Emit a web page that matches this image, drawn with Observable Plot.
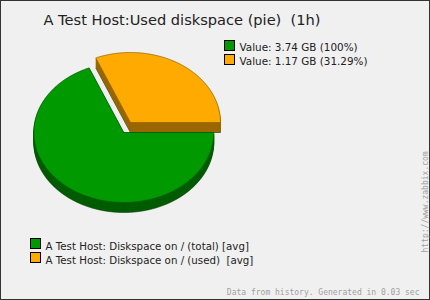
<!DOCTYPE html>
<html>
<head>
<meta charset="utf-8">
<script src="https://cdn.jsdelivr.net/npm/d3@7"></script>
<script src="https://cdn.jsdelivr.net/npm/@observablehq/plot@0.6"></script>
<style>
  html, body { margin: 0; padding: 0; background: #f0f0f0; }
  svg { display: block; }
</style>
</head>
<body>
<div id="chart"></div>
<script>
// ---- data ----
const titleText = "A Test Host:Used diskspace (pie)  (1h)";
const seriesNames = ["A Test Host: Diskspace on / (total) [avg]", "A Test Host: Diskspace on / (used)  [avg]"];
const seriesValues = ["3.74 GB", "1.17 GB"];
const seriesPercents = [100, 31.29];
const seriesColors = ["#009900", "#ffaa00"];
const shadowColors = ["#005c00", "#996600"];
const footerText = "Data from history. Generated in 0.03 sec";
const sideText = "http://www.zabbix.com";

// ---- layout ----
const W = 430, H = 300;
const cx = 123.3, cy = 132, rx = 90, ry = 70, depth = 10, explode = 12;

// slices: "used" is a fraction of "total"; total slice shows the rest
const usedFrac = seriesPercents[1] / seriesPercents[0];
const slices = [
  {i: 0, a0: 0, a1: 360 * (1 - usedFrac), explode: false},
  {i: 1, a0: 360 * (1 - usedFrac), a1: 360, explode: true}
];

function slicePoly(s, dy) {
  const rad = Math.PI / 180;
  let ox = cx, oy = cy;
  if (s.explode) {
    const mid = (s.a0 + s.a1) / 2 * rad;
    ox += explode * Math.cos(mid);
    oy += explode * Math.sin(mid);
  }
  const pts = [{x: ox, y: oy + dy}];
  const n = Math.ceil(s.a1 - s.a0) * 2;
  for (let k = 0; k <= n; k++) {
    const a = (s.a0 + (s.a1 - s.a0) * k / n) * rad;
    pts.push({x: ox + rx * Math.cos(a), y: oy + ry * Math.sin(a) + dy});
  }
  pts.push({x: ox, y: oy + dy});
  return pts;
}

const marks = [];
// background border
marks.push(Plot.rect([0], {x1: 0.5, x2: W - 0.5, y1: 0.5, y2: H - 0.5, fill: "#f0f0f0", stroke: "#333333", strokeWidth: 1}));

// shadows (3D side) layers
for (let d = depth; d > 0; d--) {
  for (const s of slices) {
    marks.push(Plot.line(slicePoly(s, d), {x: "x", y: "y", fill: shadowColors[s.i], stroke: d === depth ? "#003a00" : shadowColors[s.i], strokeWidth: d === depth ? 0.6 : 0.5, curve: "linear"}));
  }
}
// top faces
for (const s of slices) {
  marks.push(Plot.line(slicePoly(s, 0), {x: "x", y: "y", fill: seriesColors[s.i], stroke: shadowColors[s.i], strokeWidth: 0.8}));
}

// title
marks.push(Plot.text([titleText], {x: 43, y: 24.5, text: d => d, textAnchor: "start", lineAnchor: "bottom", fontSize: 14.6, fill: "#222"}));

// top-right legend
const topRows = seriesValues.map((v, i) => ({i, label: `Value: ${v} (${seriesPercents[i]}%)`}));
marks.push(Plot.rect(topRows, {x1: 224.5, x2: 234.5, y1: d => 40.5 + d.i * 14, y2: d => 50.5 + d.i * 14, fill: d => seriesColors[d.i], stroke: "#000", strokeWidth: 1}));
marks.push(Plot.text(topRows, {x: 239, y: d => 50 + d.i * 14, text: "label", textAnchor: "start", lineAnchor: "bottom", fontSize: 10.4, fill: "#222"}));

// bottom legend
const botRows = seriesNames.map((n, i) => ({i, label: n}));
marks.push(Plot.rect(botRows, {x1: 30.5, x2: 40.5, y1: d => 238.5 + d.i * 14, y2: d => 248.5 + d.i * 14, fill: d => seriesColors[d.i], stroke: "#000", strokeWidth: 1}));
marks.push(Plot.text(botRows, {x: 45, y: d => 249 + d.i * 14, text: "label", textAnchor: "start", lineAnchor: "bottom", fontSize: 10.25, fill: "#222"}));

// footer & vertical link
marks.push(Plot.text([footerText], {x: 419, y: 294.5, text: d => d, textAnchor: "end", lineAnchor: "bottom", fontSize: 8, fontFamily: "DejaVu Sans Mono", fill: "#a0a0a0"}));
marks.push(Plot.text([sideText], {x: 427.5, y: 252, text: d => d, textAnchor: "start", lineAnchor: "bottom", rotate: -90, fontSize: 8, fontFamily: "DejaVu Sans Mono", fill: "#a0a0a0"}));

const chart = Plot.plot({
  width: W, height: H,
  margin: 0,
  x: {domain: [0, W], range: [0, W], axis: null},
  y: {domain: [0, H], range: [0, H], axis: null},
  style: {background: "#f0f0f0", fontFamily: "DejaVu Sans", overflow: "visible"},
  marks
});
document.getElementById("chart").appendChild(chart);
</script>
</body>
</html>
